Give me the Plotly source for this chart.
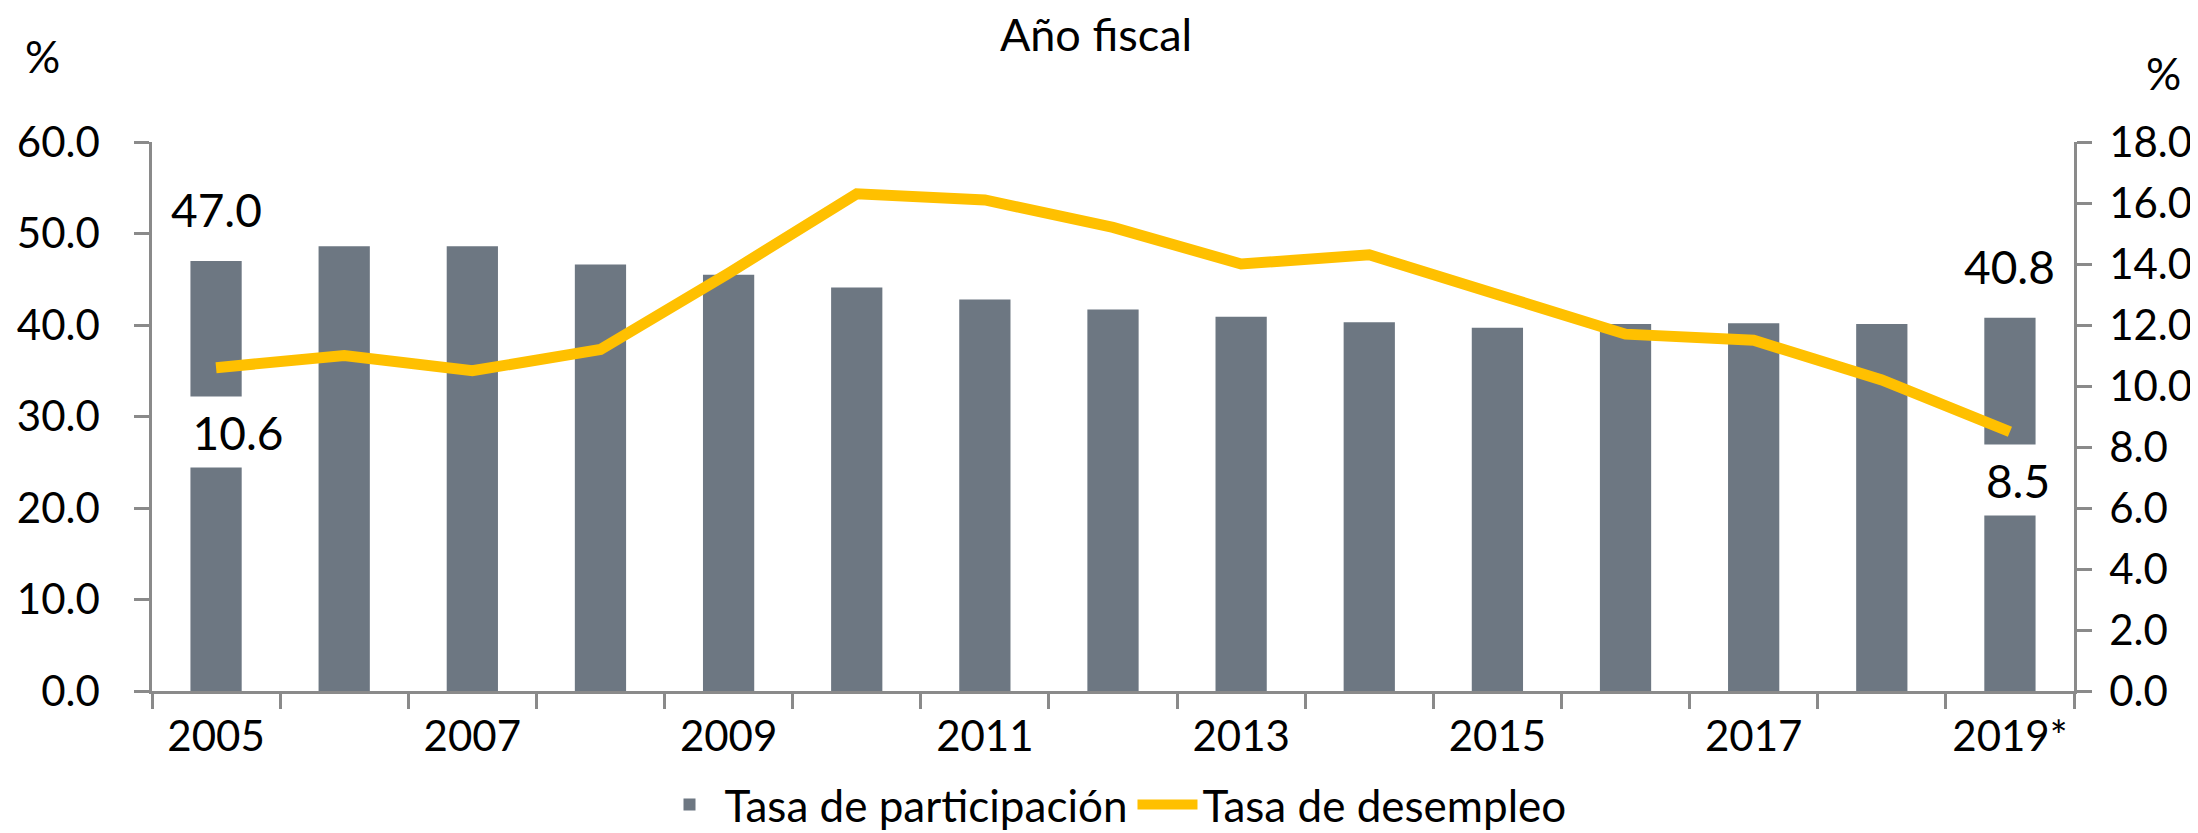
import plotly.graph_objects as go

# ---------------- data ----------------
years = ["2005", "2006", "2007", "2008", "2009", "2010", "2011", "2012",
         "2013", "2014", "2015", "2016", "2017", "2018", "2019*"]
tick_labels = ["2005", "", "2007", "", "2009", "", "2011", "", "2013", "",
               "2015", "", "2017", "", "2019*"]
participacion = [47.0, 48.6, 48.6, 46.6, 45.5, 44.1, 42.8, 41.7, 40.9, 40.3,
                 39.7, 40.1, 40.2, 40.1, 40.8]
desempleo = [10.6, 11.0, 10.5, 11.2, 13.7, 16.3, 16.1, 15.2, 14.0, 14.3,
             13.0, 11.7, 11.5, 10.2, 8.5]

name_bar = "Tasa de participación"
name_line = "Tasa de desempleo"
title_text = "Año fiscal"

# ---------------- layout geometry ----------------
W, H = 2198, 833
L, R, T, B = 144, 132, 134, 150
PW = W - L - R
PH = H - T - B

def px(xp):
    return (xp - L) / PW

def py(yp):
    return (H - B - yp) / PH

FONT = "Lato"
BAR_COLOR = "#6D7782"
LINE_COLOR = "#FFC000"
AXIS_COLOR = "#8A8A8A"

first, last = 0, len(years) - 1

fig = go.Figure()
fig.add_trace(go.Bar(
    x=years, y=participacion, name=name_bar,
    marker=dict(color=BAR_COLOR, line=dict(width=0)),
    yaxis="y",
))
fig.add_trace(go.Scatter(
    x=years, y=desempleo, name=name_line, mode="lines",
    line=dict(color=LINE_COLOR, width=11),
    yaxis="y2",
))

annotations = []
# bar value labels (first and last)
for i in (first, last):
    annotations.append(dict(x=i, y=participacion[i], xref="x", yref="y",
                            text=f"{participacion[i]:.1f}", showarrow=False,
                            yanchor="middle", yshift=51,
                            font=dict(family=FONT, size=46, color="black")))
# line value labels (first and last) with white box
annotations.append(dict(x=first, y=desempleo[first], xref="x", yref="y2",
                        text=f"{desempleo[first]:.1f}", showarrow=False,
                        yanchor="middle", xanchor="center", xshift=22, yshift=-64,
                        bgcolor="white", width=92, height=62, borderpad=4,
                        font=dict(family=FONT, size=46, color="black")))
annotations.append(dict(x=last, y=desempleo[last], xref="x", yref="y2",
                        text=f"{desempleo[last]:.1f}", showarrow=False,
                        yanchor="middle", xanchor="center", xshift=8, yshift=-48,
                        bgcolor="white", width=80, height=62, borderpad=4,
                        font=dict(family=FONT, size=46, color="black")))
# axis unit labels
annotations.append(dict(x=px(34), y=py(48), xref="paper", yref="paper", text="%",
                        showarrow=False, xanchor="center", yanchor="middle",
                        font=dict(family=FONT, size=44, color="black")))
annotations.append(dict(x=px(2155), y=py(65), xref="paper", yref="paper", text="%",
                        showarrow=False, xanchor="center", yanchor="middle",
                        font=dict(family=FONT, size=44, color="black")))

fig.update_layout(
    width=W, height=H,
    margin=dict(l=L, r=R, t=T, b=B, autoexpand=False),
    paper_bgcolor="white", plot_bgcolor="white",
    font=dict(family=FONT, color="black"),
    title=dict(text=title_text, x=1088 / W, xref="container", xanchor="center",
               y=1 - 27 / H, yref="container", yanchor="middle",
               font=dict(family=FONT, size=45, color="black")),
    bargap=0.6,
    showlegend=True,
    legend=dict(orientation="h", x=0.5, xanchor="center", y=py(797), yanchor="middle",
                font=dict(family=FONT, size=44, color="black"),
                itemwidth=60, bgcolor="rgba(0,0,0,0)"),
    xaxis=dict(type="category", range=[-0.5, len(years) - 0.5],
               tickmode="array", tickvals=years, ticktext=tick_labels,
               tickson="boundaries", ticks="outside", ticklen=15, tickwidth=2.5,
               tickcolor=AXIS_COLOR, showline=True, linecolor=AXIS_COLOR, linewidth=2.5,
               showgrid=False, zeroline=False, ticklabelstandoff=7,
               tickfont=dict(family=FONT, size=42, color="black")),
    yaxis=dict(range=[0, 60], dtick=10, tick0=0, tickformat=".1f",
               ticks="outside", ticklen=15, tickwidth=2.5, tickcolor=AXIS_COLOR,
               showline=True, linecolor=AXIS_COLOR, linewidth=2.5,
               showgrid=False, zeroline=False, ticklabelstandoff=26,
               tickfont=dict(family=FONT, size=42, color="black")),
    yaxis2=dict(range=[0, 18], dtick=2, tick0=0, tickformat=".1f", overlaying="y",
                side="right", ticks="outside", ticklen=15, tickwidth=2.5,
                tickcolor=AXIS_COLOR, showline=True, linecolor=AXIS_COLOR, linewidth=2.5,
                showgrid=False, zeroline=False, ticklabelstandoff=9,
                tickfont=dict(family=FONT, size=42, color="black")),
    annotations=annotations,
)

fig.write_html("out.html")
